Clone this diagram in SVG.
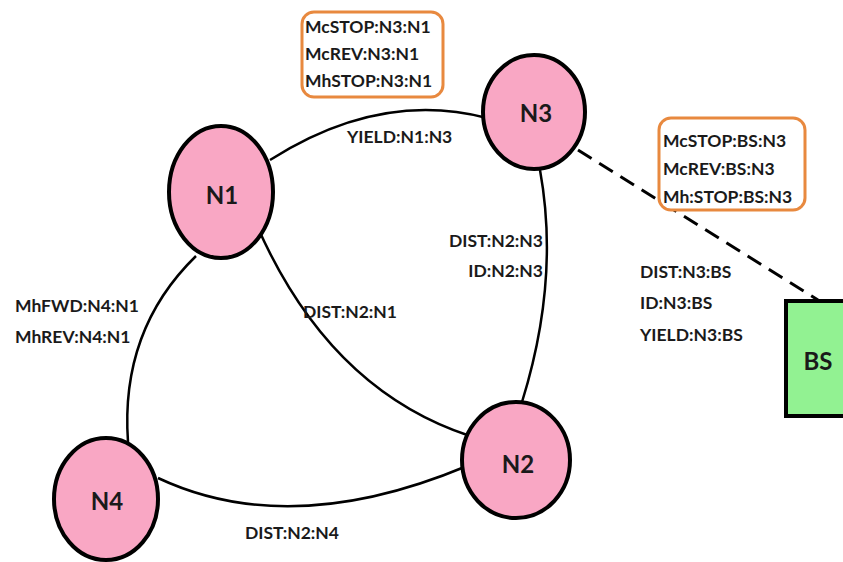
<svg xmlns="http://www.w3.org/2000/svg" width="843" height="562" viewBox="0 0 843 562">
<style>
.node{fill:#f9a7c4;stroke:#000;stroke-width:4}
.bs{fill:#92f292;stroke:#000;stroke-width:4}
.nl{font-family:Lato,"Liberation Sans",sans-serif;font-weight:bold;font-size:24px;fill:#1a1a1a;text-anchor:middle;dominant-baseline:central}
.lb{font-family:Lato,"Liberation Sans",sans-serif;font-weight:bold;font-size:17.5px;fill:#1a1a1a;dominant-baseline:central}
.edge{fill:none;stroke:#000;stroke-width:2.5}
.dash{fill:none;stroke:#000;stroke-width:3;stroke-dasharray:16,9}
.box{fill:#fff;stroke:#e8893f;stroke-width:3}
</style>
<rect width="843" height="562" fill="#fff"/>
<g id="connectors">
<path class="edge" d="M270,160 Q380,90 487,118"/>
<path class="edge" d="M540,170 Q560,280 522,402"/>
<path class="edge" d="M258,228 Q330,390 470,436"/>
<path class="edge" d="M196,256 Q120,330 128,442"/>
<path class="edge" d="M158,478 Q290,540 467,466"/>
<path class="dash" d="M578,150 L818,300"/>
</g>
<g id="labels">
<rect class="box" x="302" y="12" width="141" height="85" rx="12"/>
<text class="lb" x="305" y="26">McSTOP:N3:N1</text>
<text class="lb" x="305" y="53">McREV:N3:N1</text>
<text class="lb" x="305" y="80">MhSTOP:N3:N1</text>
<rect class="box" x="659" y="118" width="146" height="92" rx="12"/>
<text class="lb" x="663" y="140">McSTOP:BS:N3</text>
<text class="lb" x="663" y="168">McREV:BS:N3</text>
<text class="lb" x="663" y="196">Mh:STOP:BS:N3</text>
<text class="lb" x="347" y="136">YIELD:N1:N3</text>
<text class="lb" x="15" y="305">MhFWD:N4:N1</text>
<text class="lb" x="15" y="336">MhREV:N4:N1</text>
<text class="lb" x="303" y="311">DIST:N2:N1</text>
<text class="lb" x="543" y="240" text-anchor="end">DIST:N2:N3</text>
<text class="lb" x="543" y="270" text-anchor="end">ID:N2:N3</text>
<text class="lb" x="640" y="271">DIST:N3:BS</text>
<text class="lb" x="640" y="302">ID:N3:BS</text>
<text class="lb" x="640" y="334">YIELD:N3:BS</text>
<text class="lb" x="245" y="532">DIST:N2:N4</text>
</g>
<g id="N1"><ellipse class="node" cx="221" cy="192" rx="52" ry="66"/><text class="nl" x="222" y="194">N1</text></g>
<g id="N3"><ellipse class="node" cx="534" cy="112" rx="51" ry="57"/><text class="nl" x="536" y="112">N3</text></g>
<g id="N2"><ellipse class="node" cx="516" cy="460" rx="54" ry="58"/><text class="nl" x="518" y="463">N2</text></g>
<g id="N4"><ellipse class="node" cx="106" cy="499" rx="52" ry="61"/><text class="nl" x="107" y="500">N4</text></g>
<g id="BS"><rect class="bs" x="786" y="301" width="70" height="115"/><text class="nl" x="818" y="360">BS</text></g>
</svg>
